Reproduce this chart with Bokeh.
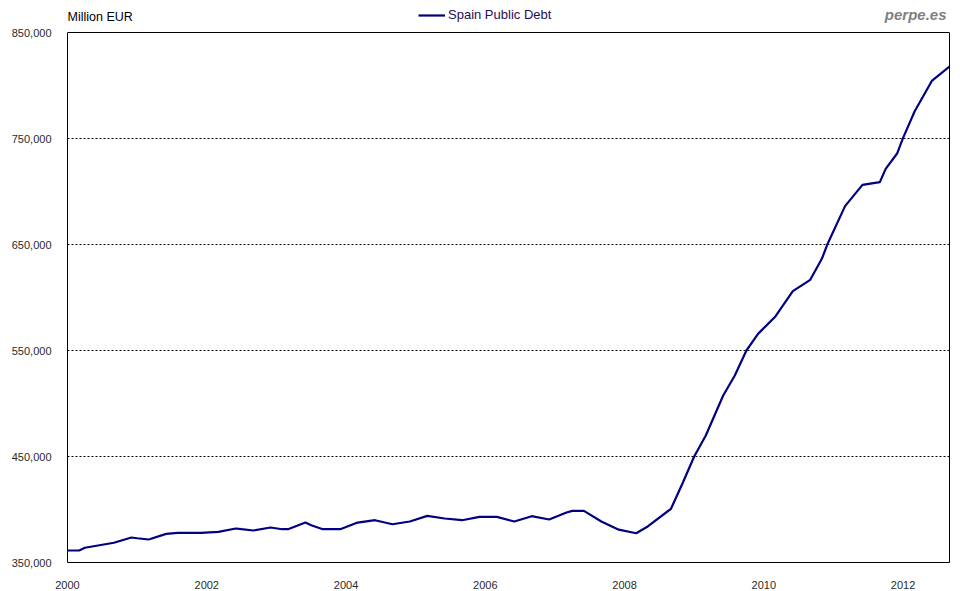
from bokeh.plotting import figure
from bokeh.models import (Range1d, FixedTicker, NumeralTickFormatter, Label, Legend,
                          LegendItem, Span, LinearAxis)
from bokeh.embed import file_html
from bokeh.resources import INLINE

# Spain public debt, million EUR
months = [
    "2000-01", "2000-03", "2000-04", "2000-09", "2000-12",
    "2001-01", "2001-03", "2001-06", "2001-08", "2001-12",
    "2002-03", "2002-06", "2002-07", "2002-09", "2002-12",
    "2003-02", "2003-03", "2003-06", "2003-07", "2003-09", "2003-12",
    "2004-03", "2004-06", "2004-09", "2004-12",
    "2005-03", "2005-06", "2005-09", "2005-12",
    "2006-03", "2006-06", "2006-09", "2006-12",
    "2007-03", "2007-04", "2007-06", "2007-09", "2007-12",
    "2008-03", "2008-05", "2008-09", "2008-11",
    "2009-01", "2009-03", "2009-06", "2009-08", "2009-10", "2009-12",
    "2010-03", "2010-06", "2010-09", "2010-11", "2010-12",
    "2011-03", "2011-06", "2011-09", "2011-10", "2011-12",
    "2012-01", "2012-03", "2012-06", "2012-09",
]
debt = [
    361300, 361300, 363900, 368600, 373600,
    372900, 371700, 377000, 378000, 378000,
    378900, 382100, 381400, 380200, 383000,
    381400, 381400, 387700, 385200, 381400, 381400,
    387700, 389900, 386100, 388700,
    394000, 391500, 389900, 393100,
    393100, 388700, 393700, 390600,
    397200, 398700, 398700, 388700, 381000,
    377600, 384000, 400700, 424800,
    450000, 469800, 507500, 526400, 550000, 565700,
    582100, 606000, 616700, 636500, 650700,
    686200, 706300, 708800, 721400, 736100,
    750600, 775700, 804700, 817900,
]
x_tick_years = [2000, 2002, 2004, 2006, 2008, 2010, 2012]
y_ticks = [350000, 450000, 550000, 650000, 750000, 850000]

xs = [int(m[:4]) + (int(m[5:7]) - 1) / 12 for m in months]

# layout: plot box 530 px tall for the value axis, with a 32 px header strip above it
box_h, header_h = 530, 32
y_top = y_ticks[0] + (y_ticks[-1] - y_ticks[0]) * (box_h + header_h) / box_h

p = figure(
    width=964, height=591, output_backend="svg", toolbar_location=None,
    x_range=Range1d(xs[0], xs[-1]), y_range=Range1d(y_ticks[0], y_top),
    min_border_left=67, min_border_right=15, min_border_top=0, min_border_bottom=29,
    background_fill_color="white", border_fill_color="white",
)
p.outline_line_color = None

p.xgrid.visible = False
p.ygrid.ticker = FixedTicker(ticks=y_ticks[1:-1])
p.ygrid.grid_line_color = "black"
p.ygrid.grid_line_dash = "2 2"
p.ygrid.grid_line_width = 1

p.xaxis.ticker = FixedTicker(ticks=x_tick_years)
p.yaxis.ticker = FixedTicker(ticks=y_ticks)
p.yaxis.formatter = NumeralTickFormatter(format="0,0")
p.yaxis.bounds = (y_ticks[0], y_ticks[-1])
for ax in (p.xaxis, p.yaxis):
    ax.major_tick_line_color = None
    ax.minor_tick_line_color = None
    ax.axis_line_color = "black"
    ax.major_label_text_font = "Liberation Sans"
    ax.major_label_text_font_size = "11px"
    ax.major_label_text_color = "#2a2a2a"
p.xaxis.major_label_standoff = 12
p.yaxis.major_label_standoff = 10

# right border of the plot box
right_ax = LinearAxis(ticker=FixedTicker(ticks=[]), bounds=(y_ticks[0], y_ticks[-1]),
                      axis_line_color="black", major_tick_line_color=None,
                      minor_tick_line_color=None, major_label_standoff=0)
p.add_layout(right_ax, "right")
# top border of the plot box
p.add_layout(Span(location=y_ticks[-1], dimension="width", line_color="black", line_width=1))

r = p.line(xs, debt, line_color="#000080", line_width=2.2)

legend = Legend(
    items=[LegendItem(label="Spain Public Debt", renderers=[r])],
    location=(351, 540), orientation="horizontal",
    padding=0, margin=0, spacing=0,
    border_line_alpha=0, background_fill_alpha=0,
    glyph_width=27, glyph_height=12, label_height=12, label_standoff=3,
    label_text_font="Liberation Sans", label_text_font_size="13px",
    label_text_color="#2b0b55",
)
p.add_layout(legend, "center")

p.add_layout(Label(x=0, y=546, x_units="screen", y_units="screen", text="Million EUR",
                   text_font="Liberation Sans", text_font_size="12.5px", text_color="black",
                   text_align="left", text_baseline="middle"))
p.add_layout(Label(x=879, y=548, x_units="screen", y_units="screen", text="perpe.es",
                   text_font="Liberation Sans", text_font_size="15px", text_color="#808080",
                   text_font_style="bold italic", text_align="right", text_baseline="middle"))

open("out.html", "w").write(file_html(p, INLINE))
